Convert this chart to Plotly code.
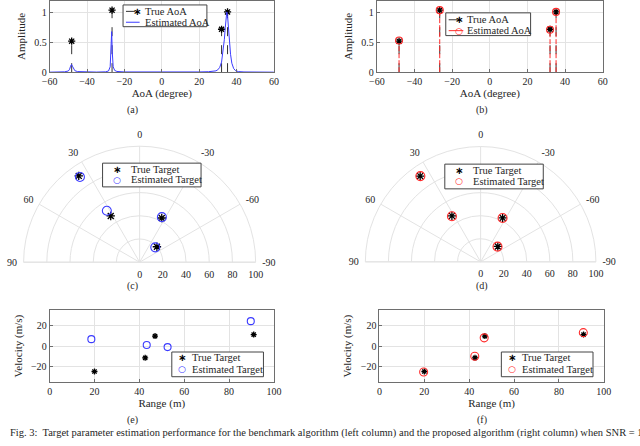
import plotly.graph_objects as go

# ---- data ----
# AoA spectrum (a)/(b)
true_aoa = [-48.2, -26.6, 32.0, 35.2]
true_amp = [0.52, 1.04, 0.72, 1.01]
prop_amp = [0.53, 1.04, 0.71, 1.01]

# benchmark spectrum samples
spec_aoa = [-60, -55, -52, -50, -49.3, -48.8, -48.3, -47.8, -47.2, -46.5, -45, -42,
            -35, -30, -28.5, -27.6, -27.1, -26.8, -26.5, -26.0, -25.2, -24, -20,
            -10, 0, 10, 20, 25, 28, 29, 30, 31, 32, 32.5, 33, 33.5, 34, 34.4,
            34.8, 35.2, 35.7, 36.2, 36.8, 37.5, 38.5, 39.5, 41, 44, 50, 60]
spec_amp = [0.0, 0.002, 0.006, 0.02, 0.05, 0.10, 0.13, 0.10, 0.05, 0.025, 0.01, 0.004,
            0.002, 0.006, 0.02, 0.09, 0.35, 0.68, 0.35, 0.09, 0.03, 0.012, 0.004,
            0.001, 0.001, 0.002, 0.004, 0.008, 0.015, 0.022, 0.04, 0.08, 0.17, 0.27, 0.40, 0.55, 0.75, 0.92,
            1.01, 0.95, 0.75, 0.50, 0.30, 0.15, 0.06, 0.025, 0.01, 0.004, 0.001, 0.0]

# targets
true_range = [20.0, 42.6, 47.0, 91.0]
true_angle = [-48.2, -26.6, 32.0, 35.2]
true_vel = [-25.0, -11.6, 9.8, 11.3]

bench_range = [18.6, 43.3, 52.6, 89.7]
bench_angle = [-46.5, -26.3, 32.5, 35.0]
bench_vel = [6.8, 1.0, -1.0, 24.5]

prop_range = [19.7, 42.5, 46.7, 90.9]
prop_angle = [-48.0, -26.6, 32.2, 35.1]
prop_vel = [-25.5, -10.0, 8.1, 13.2]

angle_ticks = [90, 60, 30, 0, -30, -60, -90]
range_ticks = [0, 20, 40, 60, 80, 100]

FONT = "Liberation Serif"
TXT = "#262626"
GRID = "#e3e3e3"
AXC = "#6e6e6e"
BLUE = "#3b3bff"
RED = "#ff2a2a"
CLEAR = "rgba(0,0,0,0)"
W, H = 640, 446


def X(px):
    return px / W


def Y(py):
    return 1 - py / H


def stems(xs, ys):
    sx, sy = [], []
    for a, h in zip(xs, ys):
        sx += [a, a, None]
        sy += [0, h, None]
    return sx, sy


def star(size=6):
    return dict(symbol="asterisk-open", size=size, color="black", line=dict(width=1.3))


def ring(color, size):
    return dict(symbol="circle-open", size=size, color=color, line=dict(width=1.1))


fig = go.Figure()

# ---- (a) benchmark AoA ----
sx, sy = stems(true_aoa, true_amp)
fig.add_trace(go.Scatter(x=sx, y=sy, mode="lines", line=dict(color="#333", dash="dash", width=1),
                         xaxis="x", yaxis="y"))
fig.add_trace(go.Scatter(x=true_aoa, y=true_amp, mode="markers", marker=star(),
                         xaxis="x", yaxis="y"))
fig.add_trace(go.Scatter(x=spec_aoa, y=spec_amp, mode="lines", line=dict(color=BLUE, width=1),
                         xaxis="x", yaxis="y"))

# ---- (b) proposed AoA ----
fig.add_trace(go.Scatter(x=sx, y=sy, mode="lines", line=dict(color="#333", dash="dash", width=1),
                         xaxis="x2", yaxis="y2"))
px_, py_ = stems(true_aoa, prop_amp)
fig.add_trace(go.Scatter(x=px_, y=py_, mode="lines", line=dict(color=RED, width=1, dash="5px,2px"),
                         xaxis="x2", yaxis="y2"))
fig.add_trace(go.Scatter(x=true_aoa, y=true_amp, mode="markers", marker=star(),
                         xaxis="x2", yaxis="y2"))
fig.add_trace(go.Scatter(x=true_aoa, y=prop_amp, mode="markers", marker=ring(RED, 7),
                         xaxis="x2", yaxis="y2"))

# ---- (c)/(d) polar ----
fig.add_trace(go.Scatterpolar(r=true_range, theta=true_angle, mode="markers", marker=star(7),
                              subplot="polar"))
fig.add_trace(go.Scatterpolar(r=bench_range, theta=bench_angle, mode="markers", marker=ring(BLUE, 9),
                              subplot="polar"))
fig.add_trace(go.Scatterpolar(r=true_range, theta=true_angle, mode="markers", marker=star(7),
                              subplot="polar2"))
fig.add_trace(go.Scatterpolar(r=prop_range, theta=prop_angle, mode="markers", marker=ring(RED, 9),
                              subplot="polar2"))

# ---- (e)/(f) range-velocity ----
fig.add_trace(go.Scatter(x=true_range, y=true_vel, mode="markers", marker=star(5),
                         xaxis="x3", yaxis="y3"))
fig.add_trace(go.Scatter(x=bench_range, y=bench_vel, mode="markers", marker=ring(BLUE, 7),
                         xaxis="x3", yaxis="y3"))
fig.add_trace(go.Scatter(x=true_range, y=true_vel, mode="markers", marker=star(5),
                         xaxis="x4", yaxis="y4"))
fig.add_trace(go.Scatter(x=prop_range, y=prop_vel, mode="markers", marker=ring(RED, 8),
                         xaxis="x4", yaxis="y4"))


def cart_axis(domain, rng, dtick, title, anchor, standoff=3):
    return dict(domain=domain, range=rng, dtick=dtick, anchor=anchor,
                title=dict(text=title, font=dict(size=11), standoff=standoff),
                showgrid=True, gridcolor=GRID, zeroline=False,
                showline=True, linecolor=AXC, linewidth=1, mirror=True,
                ticks="inside", ticklen=3, tickcolor=AXC, tickfont=dict(size=10))


def polar_layout(xdom):
    return dict(
        domain=dict(x=xdom, y=[Y(266), Y(147)]),
        sector=[0, 180], bgcolor="white",
        angularaxis=dict(rotation=90, direction="counterclockwise",
                         tickmode="array", tickvals=angle_ticks,
                         ticktext=[str(a) for a in angle_ticks],
                         showgrid=True, gridcolor=GRID, showline=True, linecolor=GRID,
                         ticks="outside", ticklen=4, tickcolor=CLEAR, tickfont=dict(size=10)),
        radialaxis=dict(range=[0, 100], tickvals=range_ticks, showline=False,
                        showgrid=True, gridcolor=GRID, ticks="outside", ticklen=3,
                        tickcolor=CLEAR, angle=0, side="clockwise", tickangle=0,
                        tickfont=dict(size=10)),
    )


ytop = [Y(73), Y(0.6)]
ybot = [Y(386), Y(314)]

fig.update_layout(
    width=W, height=H, margin=dict(l=0, r=0, t=0, b=0),
    paper_bgcolor="white", plot_bgcolor="white", showlegend=False,
    font=dict(family=FONT, color=TXT, size=10),
    xaxis=cart_axis([X(42.7), X(272.7)], [-60, 60], 20, "AoA (degree)", "y"),
    yaxis=cart_axis(ytop, [0, 1.2], 0.5, "Amplitude", "x", 6),
    xaxis2=cart_axis([X(378.3), X(610)], [-60, 60], 20, "AoA (degree)", "y2"),
    yaxis2=cart_axis(ytop, [0, 1.2], 0.5, "Amplitude", "x2", 6),
    xaxis3=cart_axis([X(42.7), X(272.7)], [0, 100], 20, "Range (m)", "y3"),
    yaxis3=cart_axis(ybot, [-35, 35], 20, "Velocity (m/s)", "x3", 6),
    xaxis4=cart_axis([X(381), X(611)], [0, 100], 20, "Range (m)", "y4"),
    yaxis4=cart_axis(ybot, [-35, 35], 20, "Velocity (m/s)", "x4", 6),
    polar=polar_layout([X(16), X(254)]),
    polar2=polar_layout([X(366.5), X(603)]),
)


def note(text, px, py, size=10, family=FONT, color=TXT, xanchor="center"):
    fig.add_annotation(text=text, x=X(px), y=Y(py), xref="paper", yref="paper",
                       xanchor=xanchor, yanchor="middle", showarrow=False, borderpad=0,
                       font=dict(size=size, family=family, color=color))


# ---- compact MATLAB-style legends (box, sample line, glyph, label) ----
def legend(box, rows, glyph_x, text_x, line_span=None):
    x0, y0, x1, y1 = box
    fig.add_shape(type="rect", xref="paper", yref="paper", x0=X(x0), x1=X(x1), y0=Y(y1), y1=Y(y0),
                  line=dict(color="#444", width=1), fillcolor="white", layer="above")
    for label, glyph, color, line_style, ry in rows:
        if line_span and line_style:
            fig.add_shape(type="line", xref="paper", yref="paper", x0=X(line_span[0]), x1=X(line_span[1]),
                          y0=Y(ry), y1=Y(ry), line=dict(color="#333" if glyph == "*" else color,
                                                         width=1, dash=line_style), layer="above")
        if glyph == "*":
            note("<b>∗</b>", glyph_x, ry, size=10, family="DejaVu Sans", color="black")
        elif glyph == "o":
            note("○", glyph_x, ry, size=9, family="DejaVu Sans", color=color)
        note(label, text_x, ry, size=10.5, xanchor="left")


legend((118, 5, 204, 27),
       [("True AoA", "*", "black", "dash", 11.5), ("Estimated AoA", None, BLUE, "solid", 22.5)],
       132.5, 139, (121, 135))
legend((449, 13, 536, 36),
       [("True AoA", "*", "black", "dash", 20), ("Estimated AoA", "o", RED, "solid", 31)],
       463, 470, (452, 467))
legend((97, 165, 198, 189),
       [("True Target", "*", "black", None, 171), ("Estimated Target", "o", BLUE, None, 182)],
       112, 125)
legend((448, 166, 549, 191),
       [("True Target", "*", "black", None, 172), ("Estimated Target", "o", RED, None, 183.5)],
       462.5, 476)
legend((168, 356, 262, 381),
       [("True Target", "*", "black", None, 362), ("Estimated Target", "o", BLUE, None, 373.5)],
       178, 188)
legend((506, 356, 600, 381),
       [("True Target", "*", "black", None, 362), ("Estimated Target", "o", RED, None, 373.5)],
       516.5, 526.5)

for txt, lx, ly in [("(a)", 128, 111), ("(b)", 486, 111), ("(c)", 128, 289),
                    ("(d)", 486, 289), ("(e)", 128, 425), ("(f)", 486, 425)]:
    note(txt, lx, ly)

note("Fig. 3:  Target parameter estimation performance for the benchmark algorithm (left column) "
     "and the proposed algorithm (right column) when SNR = 10", 1, 438, size=10.5, xanchor="left")

# the page body has an 8px default margin; drop it so the figure sits at the window origin
fig.write_html("out.html", config={"displayModeBar": False},
               post_script="document.body.style.margin='0';")
